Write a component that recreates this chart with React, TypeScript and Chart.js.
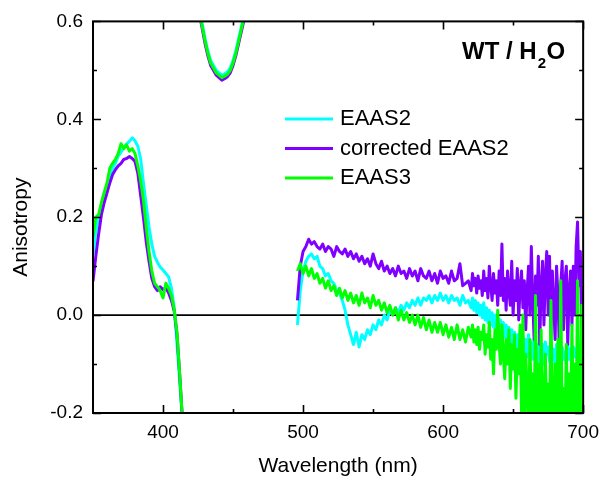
import React, { useEffect, useRef } from "react";
import { Chart, registerables } from "chart.js";

Chart.register(...registerables);

const FONT = "'Liberation Sans', Arial, Helvetica, sans-serif";

const xTicks = [400, 500, 600, 700];
const xMinorTicks = [450, 550, 650];
const yTicks = [-0.2, 0, 0.2, 0.4, 0.6];
const yMinorTicks = [-0.1, 0.1, 0.3, 0.5];

const seriesLabels = ["EAAS2", "corrected EAAS2", "EAAS3"];
const seriesColors = ["#00FFFF", "#8000FF", "#00FF00"];

// Segment A: UV band
const wlA = [350, 352, 354, 356, 358, 360, 362, 364, 366, 368, 370, 372, 374, 376, 378, 380, 382, 384, 386, 388, 390, 392, 394, 396, 398, 400, 402, 404, 406, 408, 410, 412, 414];
const eaas2A = [0.123, 0.17, 0.2, 0.225, 0.25, 0.265, 0.285, 0.3, 0.31, 0.325, 0.333, 0.342, 0.35, 0.355, 0.362, 0.356, 0.345, 0.32, 0.27, 0.225, 0.18, 0.145, 0.12, 0.108, 0.098, 0.092, 0.085, 0.078, 0.055, 0.015, -0.06, -0.14, -0.22];
const corrA = [0.069, 0.12, 0.165, 0.205, 0.23, 0.25, 0.27, 0.287, 0.297, 0.305, 0.31, 0.318, 0.32, 0.324, 0.32, 0.314, 0.29, 0.245, 0.2, 0.15, 0.11, 0.075, 0.058, 0.05, 0.058, 0.052, 0.056, 0.045, 0.03, 0.008, -0.04, -0.125, -0.22];
const eaas3A = [0.16, 0.2, 0.205, 0.23, 0.25, 0.27, 0.3, 0.31, 0.318, 0.33, 0.35, 0.34, 0.348, 0.335, 0.34, 0.33, 0.305, 0.275, 0.235, 0.18, 0.13, 0.09, 0.065, 0.058, 0.05, 0.035, 0.065, 0.055, 0.04, 0.011, -0.036, -0.125, -0.22];

// Segment B: dip near 440 nm
const wlB = [424, 426, 428, 430, 432, 434, 436, 438, 440, 442, 444, 446, 448, 450, 452, 454, 456, 458, 460, 462];
const eaas2B = [0.67, 0.63, 0.595, 0.565, 0.54, 0.52, 0.51, 0.5, 0.495, 0.49, 0.493, 0.497, 0.505, 0.52, 0.54, 0.565, 0.59, 0.615, 0.655, 0.705];
const corrB = [0.65, 0.615, 0.585, 0.555, 0.53, 0.51, 0.5, 0.49, 0.485, 0.48, 0.483, 0.487, 0.495, 0.51, 0.53, 0.555, 0.58, 0.605, 0.645, 0.695];
const eaas3B = [0.66, 0.62, 0.59, 0.56, 0.535, 0.515, 0.505, 0.495, 0.49, 0.485, 0.488, 0.492, 0.5, 0.515, 0.535, 0.56, 0.585, 0.61, 0.65, 0.7];

// Segment C: visible/red band (noisy)
const wlC = [
  496, 498, 500, 502, 504, 506, 508, 510, 512, 514,
  516, 518, 520, 522, 524, 526, 528, 530, 532, 534,
  536, 538, 540, 542, 544, 546, 548, 550, 552, 554,
  556, 558, 560, 562, 564, 566, 568, 570, 572, 574,
  576, 578, 580, 582, 584, 586, 588, 590, 592, 594,
  596, 598, 600, 602, 604, 606, 608, 610, 612, 614,
  616, 618,
  620, 621, 622, 623, 624, 625, 626, 627, 628, 629,
  630, 631, 632, 633, 634, 635, 636, 637, 638, 639,
  640, 641, 642, 643, 644, 645, 646, 647, 648, 649,
  650, 651, 652, 653, 654, 655, 656, 657, 658, 659,
  660, 661, 662, 663, 664, 665, 666, 667, 668, 669,
  670, 671, 672, 673, 674, 675, 676, 677, 678, 679,
  680, 681, 682, 683, 684, 685, 686, 687, 688, 689,
  690, 691, 692, 693, 694, 695, 696, 697, 698, 699,
  700,
];
const eaas2C = [
  -0.02, 0.05, 0.09, 0.11, 0.12, 0.125, 0.115, 0.12, 0.1, 0.095,
  0.08, 0.085, 0.07, 0.065, 0.05, 0.045, 0.03, 0.01, -0.02, -0.04,
  -0.06, -0.035, -0.065, -0.04, -0.05, -0.03, -0.04, -0.02, -0.03, -0.01,
  -0.02, 0.0, -0.01, 0.01, 0.0, 0.015, 0.005, 0.02, 0.01, 0.025,
  0.015, 0.03, 0.02, 0.035, 0.02, 0.035, 0.03, 0.04, 0.025, 0.04,
  0.03, 0.045, 0.03, 0.04, 0.025, 0.04, 0.03, 0.035, 0.02, 0.04,
  0.025, 0.03,
  0.015, 0.035, 0.01, 0.03, 0.005, 0.025, 0.0, 0.02, -0.005, 0.025,
  -0.01, 0.015, -0.015, 0.01, -0.02, 0.005, -0.025, 0.0, -0.03, -0.005,
  -0.035, -0.01, -0.04, -0.015, -0.045, -0.02, -0.05, -0.025, -0.06, -0.03,
  -0.055, -0.035, -0.065, -0.04, -0.07, -0.03, -0.075, -0.045, -0.08, -0.05,
  -0.085, -0.04, -0.075, -0.055, -0.09, -0.05, -0.08, -0.06, -0.095, -0.05,
  -0.085, -0.06, -0.1, -0.055, -0.08, -0.065, -0.095, -0.06, -0.09, -0.07,
  -0.1, -0.06, -0.085, -0.07, -0.1, -0.065, -0.09, -0.075, -0.1, -0.06,
  -0.09, -0.07, -0.1, -0.065, -0.085, -0.07, -0.1, -0.06, -0.09, -0.075,
  -0.09,
];
const corrC = [
  0.03, 0.1, 0.13, 0.14, 0.155, 0.145, 0.15, 0.14, 0.135, 0.145,
  0.13, 0.14, 0.135, 0.12, 0.14, 0.13, 0.125, 0.135, 0.12, 0.13,
  0.115, 0.125, 0.11, 0.12, 0.105, 0.115, 0.1, 0.125, 0.105, 0.095,
  0.11, 0.09, 0.1, 0.085, 0.095, 0.08, 0.1, 0.085, 0.09, 0.075,
  0.095, 0.08, 0.09, 0.07, 0.095, 0.08, 0.075, 0.09, 0.07, 0.085,
  0.065, 0.09, 0.075, 0.08, 0.065, 0.09, 0.07, 0.075, 0.105, 0.06,
  0.065, 0.07,
  0.05, 0.085, 0.06, 0.075, 0.045, 0.08, 0.055, 0.07, 0.04, 0.09,
  0.05, 0.075, 0.035, 0.1, 0.06, 0.03, 0.085, 0.045, 0.07, 0.02,
  0.09, 0.04, 0.145, 0.03, 0.075, 0.01, 0.09, 0.05, 0.02, 0.11,
  0.0, 0.07, 0.03, 0.095, -0.01, 0.06, 0.09, 0.015, 0.07, -0.03,
  0.05, 0.1, 0.0, 0.14, 0.03, -0.05, 0.08, 0.02, 0.12, -0.06,
  0.06, 0.11, -0.02, 0.08, 0.13, 0.0, 0.12, -0.04, 0.09, 0.02,
  -0.05, 0.1, 0.04, -0.07, 0.06, 0.11, -0.03, 0.07, 0.1, -0.06,
  0.05, 0.09, -0.02, 0.1, 0.0, 0.14, 0.19, 0.06, 0.13, -0.04,
  0.05,
];
const eaas3C = [
  0.09, 0.105, 0.085, 0.1, 0.08, 0.095, 0.075, 0.085, 0.065, 0.075,
  0.055, 0.07, 0.05, 0.06, 0.04, 0.055, 0.035, 0.05, 0.03, 0.045,
  0.025, 0.04, 0.02, 0.045, 0.025, 0.035, 0.015, 0.04, 0.02, 0.03,
  0.01, 0.025, 0.005, 0.02, 0.0, 0.015, -0.01, 0.01, -0.01, 0.005,
  -0.015, 0.0, -0.02, 0.0, -0.025, -0.005, -0.03, -0.01, -0.035, -0.015,
  -0.035, -0.015, -0.04, -0.02, -0.045, -0.025, -0.05, -0.02, -0.05, -0.03,
  -0.055, -0.025,
  -0.045, -0.02, -0.055, -0.03, -0.06, -0.025, -0.07, -0.035, -0.05, -0.02,
  -0.08, -0.04, -0.065, -0.015, -0.09, -0.05, -0.12, -0.03, -0.07, 0.01,
  -0.06, -0.1, -0.02, -0.08, -0.13, -0.05, -0.1, -0.03, -0.15, -0.06,
  -0.11, -0.04, -0.17, -0.07, -0.12, -0.02, -0.2, 0.0, -0.22, -0.08,
  -0.15, -0.25, -0.05, -0.2, -0.12, -0.25, 0.04, -0.22, -0.1, -0.25,
  -0.03, -0.2, -0.25, -0.08, -0.22, -0.14, -0.25, 0.03, -0.2, -0.25,
  -0.1, -0.24, -0.05, -0.25, 0.07, -0.22, -0.15, -0.25, -0.06, -0.25,
  -0.12, -0.22, -0.02, -0.25, -0.1, -0.24, 0.07, -0.2, -0.25, 0.02,
  -0.15,
];

function seg(xs: number[], ys: number[]) {
  return xs.map((x, i) => ({ x, y: ys[i] as number | null }));
}
function gap(x: number) {
  return { x, y: null as number | null };
}
function build(a: number[], b: number[], c: number[]) {
  return [...seg(wlA, a), gap(418), ...seg(wlB, b), gap(480), ...seg(wlC, c)];
}

const seriesData = [build(eaas2A, eaas2B, eaas2C), build(corrA, corrB, corrC), build(eaas3A, eaas3B, eaas3C)];
const drawOrder = [2, 1, 0];

const decor = {
  id: "decor",
  beforeDatasetsDraw(chart: any) {
    const { ctx, chartArea: a, scales } = chart;
    const y0 = scales.y.getPixelForValue(0);
    ctx.save();
    ctx.strokeStyle = "#000";
    ctx.lineWidth = 1.8;
    ctx.beginPath();
    ctx.moveTo(a.left, y0);
    ctx.lineTo(a.right, y0);
    ctx.stroke();
    ctx.restore();
  },
  afterDatasetsDraw(chart: any) {
    const { ctx, chartArea: a, scales } = chart;
    const xs = scales.x;
    const ys = scales.y;
    ctx.save();
    ctx.strokeStyle = "#000";
    ctx.lineWidth = 2;
    ctx.strokeRect(a.left, a.top, a.right - a.left, a.bottom - a.top);
    ctx.lineWidth = 1.6;
    ctx.beginPath();
    const tick = (v: number, len: number) => {
      const px = Math.round(xs.getPixelForValue(v)) + 0.5;
      ctx.moveTo(px, a.bottom);
      ctx.lineTo(px, a.bottom - len);
      ctx.moveTo(px, a.top);
      ctx.lineTo(px, a.top + len);
    };
    xTicks.forEach((v) => tick(v, 8));
    xMinorTicks.forEach((v) => tick(v, 4));
    const ytick = (v: number, len: number) => {
      const py = Math.round(ys.getPixelForValue(v)) + 0.5;
      ctx.moveTo(a.left, py);
      ctx.lineTo(a.left + len, py);
      ctx.moveTo(a.right, py);
      ctx.lineTo(a.right - len, py);
    };
    yTicks.forEach((v) => ytick(v, 8));
    yMinorTicks.forEach((v) => ytick(v, 4));
    ctx.stroke();

    // axis titles
    ctx.fillStyle = "#000";
    ctx.font = `21px ${FONT}`;
    ctx.textAlign = "center";
    ctx.textBaseline = "alphabetic";
    ctx.fillText("Wavelength (nm)", (a.left + a.right) / 2, 471.5);
    ctx.save();
    ctx.translate(27, (a.top + a.bottom) / 2 + 10);
    ctx.rotate(-Math.PI / 2);
    ctx.fillText("Anisotropy", 0, 0);
    ctx.restore();

    // legend
    ctx.font = `22px ${FONT}`;
    ctx.textAlign = "left";
    ctx.textBaseline = "middle";
    const rowY = [119, 148.5, 178];
    seriesLabels.forEach((lab, i) => {
      ctx.strokeStyle = seriesColors[i];
      ctx.lineWidth = 3;
      ctx.beginPath();
      ctx.moveTo(285, rowY[i]);
      ctx.lineTo(333, rowY[i]);
      ctx.stroke();
      ctx.fillStyle = "#000";
      ctx.fillText(lab, 340, rowY[i]);
    });

    // sample label
    ctx.textBaseline = "alphabetic";
    ctx.font = `bold 24px ${FONT}`;
    let x = 462;
    const part1 = "WT / H";
    ctx.fillText(part1, x, 59);
    x += ctx.measureText(part1).width + 1;
    ctx.font = `bold 15px ${FONT}`;
    ctx.fillText("2", x, 68);
    x += ctx.measureText("2").width + 0.5;
    ctx.font = `bold 24px ${FONT}`;
    ctx.fillText("O", x, 59);
    ctx.restore();
  },
};

export default function App() {
  const ref = useRef<HTMLCanvasElement>(null);
  useEffect(() => {
    document.body.style.margin = "0";
    const chart = new Chart(ref.current as HTMLCanvasElement, {
      type: "line",
      data: {
        datasets: seriesLabels.map((label, i) => ({
          label,
          data: seriesData[i],
          borderColor: seriesColors[i],
          backgroundColor: seriesColors[i],
          borderWidth: 3,
          pointRadius: 0,
          tension: 0,
          spanGaps: false,
          borderJoinStyle: "round" as const,
          order: drawOrder[i],
        })),
      },
      options: {
        animation: false,
        responsive: false,
        devicePixelRatio: 1,
        layout: { padding: { left: 0, right: 23, top: 21, bottom: 0 } },
        plugins: { legend: { display: false }, tooltip: { enabled: false } },
        scales: {
          x: {
            type: "linear",
            min: 350,
            max: 700,
            afterBuildTicks: (s: any) => {
              s.ticks = xTicks.map((v) => ({ value: v }));
            },
            afterFit: (s: any) => {
              s.height = 65;
            },
            grid: { display: false, drawTicks: false },
            border: { display: false },
            ticks: { padding: 8, color: "#000", font: { family: FONT, size: 19 }, maxRotation: 0, autoSkip: false },
          },
          y: {
            type: "linear",
            min: -0.2,
            max: 0.6,
            afterBuildTicks: (s: any) => {
              s.ticks = yTicks.map((v) => ({ value: v }));
            },
            afterFit: (s: any) => {
              s.width = 93;
            },
            grid: { display: false, drawTicks: false },
            border: { display: false },
            ticks: {
              padding: 10,
              color: "#000",
              font: { family: FONT, size: 19 },
              callback: (v: any) => Number(v).toFixed(1),
            },
          },
        },
      },
      plugins: [decor],
    });
    return () => chart.destroy();
  }, []);
  return <canvas ref={ref} width={607} height={478} style={{ display: "block" }} />;
}
